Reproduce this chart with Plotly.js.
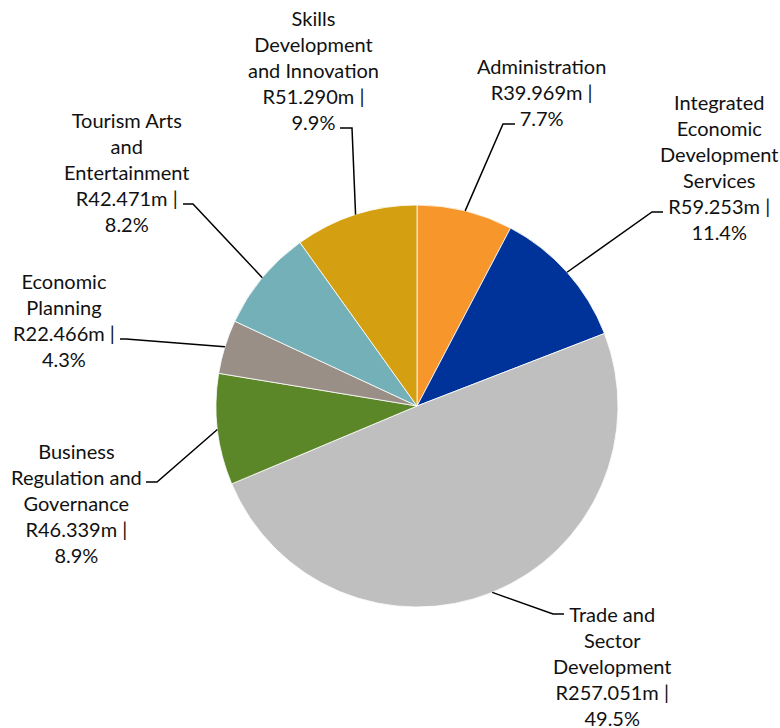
<!DOCTYPE html>
<html>
<head>
<meta charset="utf-8">
<script src="https://cdn.plot.ly/plotly-3.0.1.min.js"></script>
<style>html,body{margin:0;padding:0;background:#fff;}#chart{width:780px;height:728px;}</style>
</head>
<body>
<div id="chart"></div>
<script>
// ---- data ----
const categories = [
  "Administration",
  "Integrated Economic Development Services",
  "Trade and Sector Development",
  "Business Regulation and Governance",
  "Economic Planning",
  "Tourism Arts and Entertainment",
  "Skills Development and Innovation"
];
const values = [39.969, 59.253, 257.051, 46.339, 22.466, 42.471, 51.290];
const percentLabels = ["7.7%", "11.4%", "49.5%", "8.9%", "4.3%", "8.2%", "9.9%"];
const labelLines = [
  ["Administration"],
  ["Integrated", "Economic", "Development", "Services"],
  ["Trade and", "Sector", "Development"],
  ["Business", "Regulation and", "Governance"],
  ["Economic", "Planning"],
  ["Tourism Arts", "and", "Entertainment"],
  ["Skills", "Development", "and Innovation"]
];
const colors = ["#F7962B", "#003399", "#BFBFBF", "#5B8729", "#998F86", "#74B0B8", "#D4A012"];

// ---- layout constants (pixels) ----
const W = 780, H = 728;
const CX = 417, CY = 406, R = 201;
// label block centre, elbow and line end for each slice
const labelPos = [
  {x: 541, y: 92},
  {x: 719, y: 167},
  {x: 612, y: 666},
  {x: 76, y: 503},
  {x: 64, y: 320},
  {x: 127, y: 172},
  {x: 313, y: 70}
];
const elbows = [
  [[503, 124], [515, 124]],
  [[652, 212], [663, 212]],
  [[553, 614], [564, 614]],
  [[157, 482], [146, 482]],
  [[126, 339], [120, 339]],
  [[193, 204], [183, 204]],
  [[352, 128], [340, 128]]
];

const px = x => x / W;
const py = y => 1 - y / H;

const total = values.reduce((a, b) => a + b, 0);
let cum = 0;
const shapes = [];
const annotations = [];
values.forEach((v, i) => {
  const mid = (cum + v / 2) / total * 2 * Math.PI;
  cum += v;
  const ex = CX + R * Math.sin(mid), ey = CY - R * Math.cos(mid);
  const e = elbows[i];
  shapes.push({
    type: "path", xref: "paper", yref: "paper",
    path: `M ${px(ex)},${py(ey)} L ${px(e[0][0])},${py(e[0][1])} L ${px(e[1][0])},${py(e[1][1])}`,
    line: {color: "#000", width: 1.5}
  });
  const text = labelLines[i].concat(["R" + v.toFixed(3) + "m |", percentLabels[i]]).join("<br>");
  annotations.push({
    xref: "paper", yref: "paper", x: px(labelPos[i].x), y: py(labelPos[i].y),
    xanchor: "center", yanchor: "middle", align: "center",
    text: text, showarrow: false,
    font: {family: "Lato, 'Open Sans', sans-serif", size: 20, color: "#111"}
  });
});

const trace = {
  type: "pie",
  labels: categories,
  values: values,
  sort: false,
  direction: "clockwise",
  rotation: 0,
  textinfo: "none",
  hoverinfo: "skip",
  marker: {colors: colors, line: {color: "#ffffff", width: 0.8}},
  domain: {x: [px(CX - R), px(CX + R)], y: [py(CY + R), py(CY - R)]},
  showlegend: false
};

Plotly.newPlot("chart", [trace], {
  width: W, height: H,
  margin: {l: 0, r: 0, t: 0, b: 0},
  paper_bgcolor: "#fff",
  showlegend: false,
  shapes: shapes,
  annotations: annotations
}, {displayModeBar: false, staticPlot: true});
</script>
</body>
</html>
